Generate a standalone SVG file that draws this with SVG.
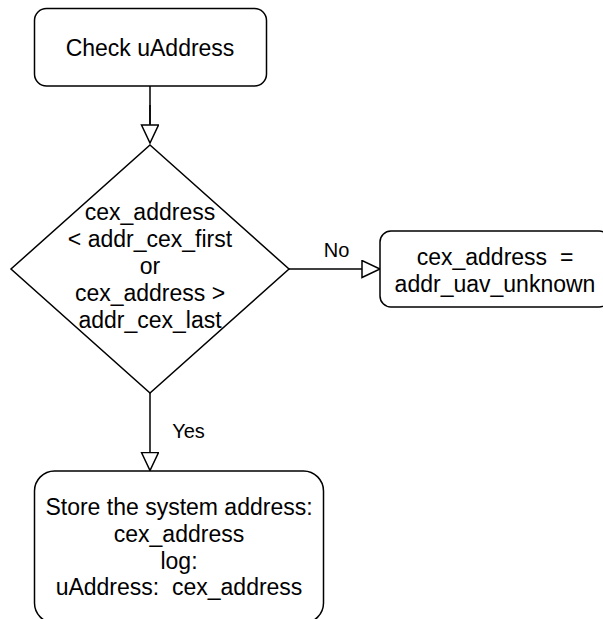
<svg xmlns="http://www.w3.org/2000/svg" width="603" height="619" viewBox="0 0 603 619">
  <defs>
    <marker id="open-arrow" markerWidth="22" markerHeight="22" refX="19" refY="9" orient="auto" markerUnits="userSpaceOnUse">
      <path d="M1,0.5 L19,9 L1,17.5 Z" fill="#ffffff" stroke="#000000" stroke-width="1.5"/>
    </marker>
  </defs>
  <style>
    .shape { fill: #ffffff; stroke: #000000; stroke-width: 1.5; }
    .txt { font-family: "Liberation Sans", Arial, Helvetica, sans-serif; font-size: 23px; fill: #000000; text-anchor: middle; }
    .lbl { font-family: "Liberation Sans", Arial, Helvetica, sans-serif; font-size: 20px; fill: #000000; text-anchor: middle; }
    .edge { fill: none; stroke: #000000; stroke-width: 1.5; }
  </style>
  <rect width="603" height="619" fill="#ffffff"/>

  <g id="connectors">
    <path class="edge" d="M150,86 L150,143" marker-end="url(#open-arrow)"/>
    <path class="edge" d="M150,105 L150,124" stroke-width="3"/>
    <path class="edge" d="M289,269 L380,269" marker-end="url(#open-arrow)"/>
    <text class="lbl" x="336.5" y="256.5">No</text>
    <path class="edge" d="M150,393 L150,470.5" marker-end="url(#open-arrow)"/>
    <text class="lbl" x="188.5" y="438">Yes</text>
  </g>

  <g id="check-uaddress">
    <rect class="shape" x="34.5" y="8.5" width="232" height="77.5" rx="12" ry="12"/>
    <text class="txt" x="150" y="56">Check uAddress</text>
  </g>

  <g id="range-decision">
    <path class="shape" d="M150,145 L289,269 L150,393 L11,269 Z"/>
    <text class="txt" x="150" y="220">cex_address</text>
    <text class="txt" x="150" y="247">&lt; addr_cex_first</text>
    <text class="txt" x="150" y="274">or</text>
    <text class="txt" x="150" y="301">cex_address &gt;</text>
    <text class="txt" x="150" y="328">addr_cex_last</text>
  </g>

  <g id="set-unknown">
    <rect class="shape" x="380" y="231" width="230" height="76" rx="11" ry="11"/>
    <text class="txt" x="495" y="264.5" xml:space="preserve">cex_address  =</text>
    <text class="txt" x="495" y="291.5">addr_uav_unknown</text>
  </g>

  <g id="store-address">
    <rect class="shape" x="34.5" y="471" width="289" height="152" rx="20" ry="20"/>
    <text class="txt" x="179" y="515">Store the system address:</text>
    <text class="txt" x="179" y="542">cex_address</text>
    <text class="txt" x="179" y="568.5">log:</text>
    <text class="txt" x="179" y="595" xml:space="preserve">uAddress:  cex_address</text>
  </g>
</svg>
